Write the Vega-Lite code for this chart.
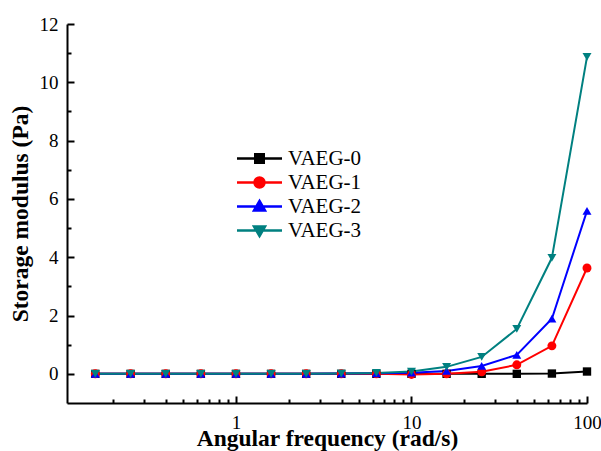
{
  "$schema": "https://vega.github.io/schema/vega-lite/v6.json",
  "autosize": {"type": "none"},
  "padding": {"left": 67, "top": 24, "right": 14, "bottom": 48},
  "width": 520,
  "height": 379,
  "background": "white",
  "config": {
    "view": {"stroke": null},
    "axis": {
      "domainColor": "black",
      "domainWidth": 2,
      "gridColor": "black",
      "gridWidth": 2,
      "gridOpacity": 1,
      "labelFont": "Liberation Serif",
      "labelFontSize": 19,
      "labelColor": "black",
      "titleFont": "Liberation Serif",
      "titleFontSize": 23.5,
      "titleFontWeight": "bold",
      "titleColor": "black"
    }
  },
  "data": {
    "values": [
      {"f": 0.158, "series": "VAEG-0", "g": 0},
      {"f": 0.251, "series": "VAEG-0", "g": 0},
      {"f": 0.398, "series": "VAEG-0", "g": 0},
      {"f": 0.631, "series": "VAEG-0", "g": 0},
      {"f": 1, "series": "VAEG-0", "g": 0},
      {"f": 1.585, "series": "VAEG-0", "g": 0},
      {"f": 2.512, "series": "VAEG-0", "g": 0},
      {"f": 3.981, "series": "VAEG-0", "g": 0},
      {"f": 6.31, "series": "VAEG-0", "g": 0},
      {"f": 10, "series": "VAEG-0", "g": 0},
      {"f": 15.85, "series": "VAEG-0", "g": 0},
      {"f": 25.12, "series": "VAEG-0", "g": 0.0},
      {"f": 39.81, "series": "VAEG-0", "g": 0.0},
      {"f": 63.1, "series": "VAEG-0", "g": 0.01},
      {"f": 100, "series": "VAEG-0", "g": 0.08},
      {"f": 0.158, "series": "VAEG-1", "g": 0},
      {"f": 0.251, "series": "VAEG-1", "g": 0},
      {"f": 0.398, "series": "VAEG-1", "g": 0},
      {"f": 0.631, "series": "VAEG-1", "g": 0},
      {"f": 1, "series": "VAEG-1", "g": 0},
      {"f": 1.585, "series": "VAEG-1", "g": 0},
      {"f": 2.512, "series": "VAEG-1", "g": 0},
      {"f": 3.981, "series": "VAEG-1", "g": 0},
      {"f": 6.31, "series": "VAEG-1", "g": 0},
      {"f": 10, "series": "VAEG-1", "g": -0.02},
      {"f": 15.85, "series": "VAEG-1", "g": 0.0},
      {"f": 25.12, "series": "VAEG-1", "g": 0.07},
      {"f": 39.81, "series": "VAEG-1", "g": 0.31},
      {"f": 63.1, "series": "VAEG-1", "g": 0.96},
      {"f": 100, "series": "VAEG-1", "g": 3.63},
      {"f": 0.158, "series": "VAEG-2", "g": 0},
      {"f": 0.251, "series": "VAEG-2", "g": 0},
      {"f": 0.398, "series": "VAEG-2", "g": 0},
      {"f": 0.631, "series": "VAEG-2", "g": 0},
      {"f": 1, "series": "VAEG-2", "g": 0},
      {"f": 1.585, "series": "VAEG-2", "g": 0},
      {"f": 2.512, "series": "VAEG-2", "g": 0},
      {"f": 3.981, "series": "VAEG-2", "g": 0.01},
      {"f": 6.31, "series": "VAEG-2", "g": 0.02},
      {"f": 10, "series": "VAEG-2", "g": 0.04},
      {"f": 15.85, "series": "VAEG-2", "g": 0.1},
      {"f": 25.12, "series": "VAEG-2", "g": 0.27},
      {"f": 39.81, "series": "VAEG-2", "g": 0.65},
      {"f": 63.1, "series": "VAEG-2", "g": 1.89},
      {"f": 100, "series": "VAEG-2", "g": 5.59},
      {"f": 0.158, "series": "VAEG-3", "g": 0},
      {"f": 0.251, "series": "VAEG-3", "g": 0},
      {"f": 0.398, "series": "VAEG-3", "g": 0},
      {"f": 0.631, "series": "VAEG-3", "g": 0},
      {"f": 1, "series": "VAEG-3", "g": 0},
      {"f": 1.585, "series": "VAEG-3", "g": 0},
      {"f": 2.512, "series": "VAEG-3", "g": 0.0},
      {"f": 3.981, "series": "VAEG-3", "g": 0.01},
      {"f": 6.31, "series": "VAEG-3", "g": 0.03},
      {"f": 10, "series": "VAEG-3", "g": 0.08},
      {"f": 15.85, "series": "VAEG-3", "g": 0.24},
      {"f": 25.12, "series": "VAEG-3", "g": 0.58},
      {"f": 39.81, "series": "VAEG-3", "g": 1.54},
      {"f": 63.1, "series": "VAEG-3", "g": 3.98},
      {"f": 100, "series": "VAEG-3", "g": 10.87}
    ]
  },
  "encoding": {
    "x": {
      "field": "f",
      "type": "quantitative",
      "scale": {"type": "log", "domain": [0.109, 100], "nice": false},
      "axis": {
        "title": "Angular frequency (rad/s)",
        "values": [0.2, 0.3, 0.4, 0.5, 0.6, 0.7, 0.8, 0.9, 1, 2, 3, 4, 5, 6, 7, 8, 9, 10, 20, 30, 40, 50, 60, 70, 80, 90, 100],
        "labelExpr": "indexof([1,10,100], datum.value) >= 0 ? datum.label : ''",
        "ticks": false,
        "tickSize": 0,
        "grid": true,
        "gridDash": {"condition": {"test": "indexof([1,10,100], datum.value) >= 0", "value": [7, 372]}, "value": [4, 375]},
        "gridDashOffset": {"condition": {"test": "indexof([1,10,100], datum.value) >= 0", "value": 7}, "value": 4},
        "labelPadding": 10,
        "labelFlush": false,
        "labelOverlap": false,
        "titlePadding": -6
      }
    },
    "y": {
      "field": "g",
      "type": "quantitative",
      "scale": {"domain": [-1, 12], "nice": false, "zero": false},
      "axis": {
        "title": "Storage modulus (Pa)",
        "values": [0, 1, 2, 3, 4, 5, 6, 7, 8, 9, 10, 11, 12],
        "labelExpr": "datum.value % 2 === 0 ? datum.label : ''",
        "ticks": false,
        "tickSize": 0,
        "grid": true,
        "gridDash": {"condition": {"test": "datum.value % 2 === 0", "value": [7, 1000]}, "value": [4, 1000]},
        "labelPadding": 9,
        "labelFlush": false,
        "labelOverlap": false,
        "titlePadding": 7
      }
    },
    "color": {
      "field": "series",
      "type": "nominal",
      "scale": {"domain": ["VAEG-0", "VAEG-1", "VAEG-2", "VAEG-3"], "range": ["#000000", "#ff0000", "#0000ff", "#008080"]},
      "legend": {
        "title": null,
        "orient": "none",
        "legendX": 182,
        "legendY": 124,
        "padding": 0,
        "symbolSize": 100,
        "symbolStrokeWidth": 2.5,
        "labelFont": "Liberation Serif",
        "labelFontSize": 21,
        "labelColor": "black",
        "labelOffset": 18,
        "rowPadding": 2,
        "encode": {
          "symbols": {
            "update": {
              "shape": {"signal": "datum.value === 'VAEG-0' ? 'M-4.5,0H4.5M-0.85,-0.85H0.85V0.85H-0.85Z' : datum.value === 'VAEG-1' ? 'M-4.5,0H4.5M-1,0A1,1 0 1,1 1,0A1,1 0 1,1 -1,0Z' : datum.value === 'VAEG-2' ? 'M-4.5,0H4.5M0,-1.1L1.1,0.8L-1.1,0.8Z' : 'M-4.5,0H4.5M0,1.1L1.1,-0.8L-1.1,-0.8Z'"},
              "fill": {"signal": "scale('color', datum.value)"},
              "stroke": {"signal": "scale('color', datum.value)"},
              "strokeWidth": {"value": 2.5},
              "opacity": {"value": 1}
            }
          }
        }
      }
    }
  },
  "layer": [
    {"mark": {"type": "line", "strokeWidth": 2}},
    {
      "transform": [{"filter": "datum.series === 'VAEG-0'"}],
      "mark": {"type": "point", "filled": true, "opacity": 1, "shape": "square", "size": 70}
    },
    {
      "transform": [{"filter": "datum.series === 'VAEG-1'"}],
      "mark": {"type": "point", "filled": true, "opacity": 1, "shape": "circle", "size": 80}
    },
    {
      "transform": [{"filter": "datum.series === 'VAEG-2'"}],
      "mark": {"type": "point", "filled": true, "opacity": 1, "shape": "triangle-up", "size": 80}
    },
    {
      "transform": [{"filter": "datum.series === 'VAEG-3'"}],
      "mark": {"type": "point", "filled": true, "opacity": 1, "shape": "triangle-down", "size": 80}
    }
  ]
}
